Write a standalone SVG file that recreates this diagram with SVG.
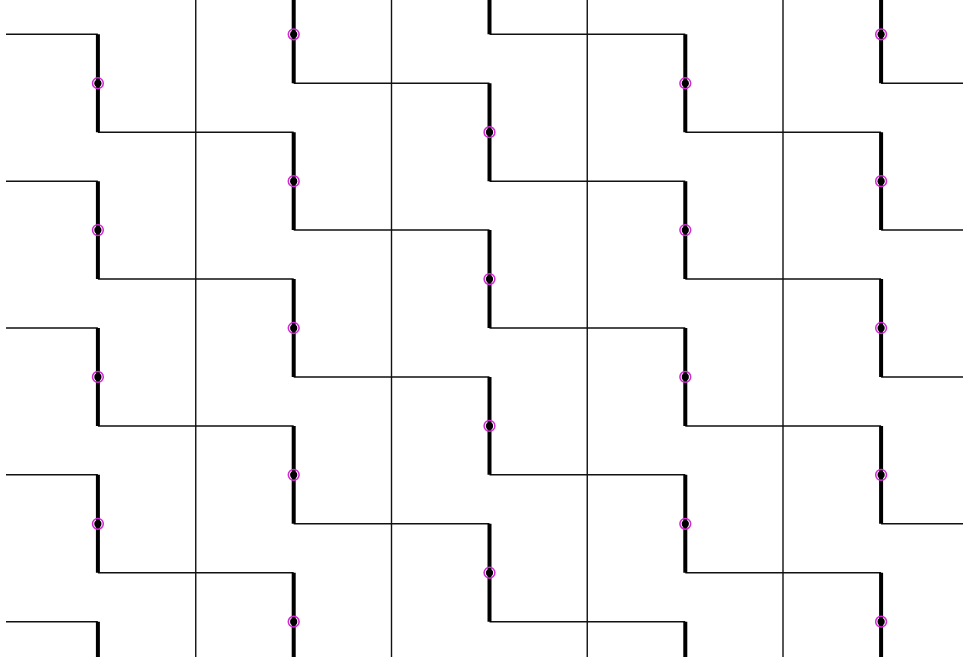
<svg xmlns="http://www.w3.org/2000/svg" xmlns:xlink="http://www.w3.org/1999/xlink" width="963" height="661" viewBox="0 0 963 661">
<style>
.grid{stroke:#111;stroke-width:1.4;fill:none}
.thin{stroke:#111;stroke-width:1.5;fill:none}
.thick{stroke:#000;stroke-width:4;fill:none}
.ring{fill:none;stroke:#d22ad2;stroke-width:1.5}
.core{fill:#000}
</style>
<defs>
<clipPath id="clip"><rect x="0" y="0" width="963" height="657"/></clipPath>
<g id="dot"><circle class="core" r="3.6"/><circle class="ring" r="5.4"/></g>
</defs>
<rect width="963" height="661" fill="#fff"/>
<g clip-path="url(#clip)">
<g id="grid" class="grid">
<path d="M195.75 0V657M391.5 0V657M587.25 0V657M783 0V657"/>
</g>
<g id="connectors">
<path class="thin" d="M6 34.3H97.9M6 181.15H97.9M6 328H97.9M6 474.85H97.9M6 621.7H97.9
M97.9 132.2H293.7M97.9 279.05H293.7M97.9 425.9H293.7M97.9 572.75H293.7
M293.7 83.25H489.5M293.7 230.1H489.5M293.7 376.95H489.5M293.7 523.8H489.5
M489.5 34.3H685.3M489.5 181.15H685.3M489.5 328H685.3M489.5 474.85H685.3M489.5 621.7H685.3
M685.3 132.2H881.1M685.3 279.05H881.1M685.3 425.9H881.1M685.3 572.75H881.1
M881.1 83.25H963M881.1 230.1H963M881.1 376.95H963M881.1 523.8H963"/>
<path class="thick" d="M97.9 34.3V132.2M97.9 181.15V279.05M97.9 328V425.9M97.9 474.85V572.75M97.9 621.7V719.6
M293.7 -14.65V83.25M293.7 132.2V230.1M293.7 279.05V376.95M293.7 425.9V523.8M293.7 572.75V670.65
M489.5 -63.6V34.3M489.5 83.25V181.15M489.5 230.1V328M489.5 376.95V474.85M489.5 523.8V621.7
M685.3 34.3V132.2M685.3 181.15V279.05M685.3 328V425.9M685.3 474.85V572.75M685.3 621.7V719.6
M881.1 -14.65V83.25M881.1 132.2V230.1M881.1 279.05V376.95M881.1 425.9V523.8M881.1 572.75V670.65"/>
</g>
<g id="n-c0-1"><use xlink:href="#dot" x="97.9" y="83.25"/></g>
<g id="n-c0-2"><use xlink:href="#dot" x="97.9" y="230.1"/></g>
<g id="n-c0-3"><use xlink:href="#dot" x="97.9" y="376.95"/></g>
<g id="n-c0-4"><use xlink:href="#dot" x="97.9" y="523.8"/></g>
<g id="n-c1-1"><use xlink:href="#dot" x="293.7" y="34.3"/></g>
<g id="n-c1-2"><use xlink:href="#dot" x="293.7" y="181.15"/></g>
<g id="n-c1-3"><use xlink:href="#dot" x="293.7" y="328"/></g>
<g id="n-c1-4"><use xlink:href="#dot" x="293.7" y="474.85"/></g>
<g id="n-c1-5"><use xlink:href="#dot" x="293.7" y="621.7"/></g>
<g id="n-c2-1"><use xlink:href="#dot" x="489.5" y="132.2"/></g>
<g id="n-c2-2"><use xlink:href="#dot" x="489.5" y="279.05"/></g>
<g id="n-c2-3"><use xlink:href="#dot" x="489.5" y="425.9"/></g>
<g id="n-c2-4"><use xlink:href="#dot" x="489.5" y="572.75"/></g>
<g id="n-c3-1"><use xlink:href="#dot" x="685.3" y="83.25"/></g>
<g id="n-c3-2"><use xlink:href="#dot" x="685.3" y="230.1"/></g>
<g id="n-c3-3"><use xlink:href="#dot" x="685.3" y="376.95"/></g>
<g id="n-c3-4"><use xlink:href="#dot" x="685.3" y="523.8"/></g>
<g id="n-c4-1"><use xlink:href="#dot" x="881.1" y="34.3"/></g>
<g id="n-c4-2"><use xlink:href="#dot" x="881.1" y="181.15"/></g>
<g id="n-c4-3"><use xlink:href="#dot" x="881.1" y="328"/></g>
<g id="n-c4-4"><use xlink:href="#dot" x="881.1" y="474.85"/></g>
<g id="n-c4-5"><use xlink:href="#dot" x="881.1" y="621.7"/></g>
</g>
</svg>
